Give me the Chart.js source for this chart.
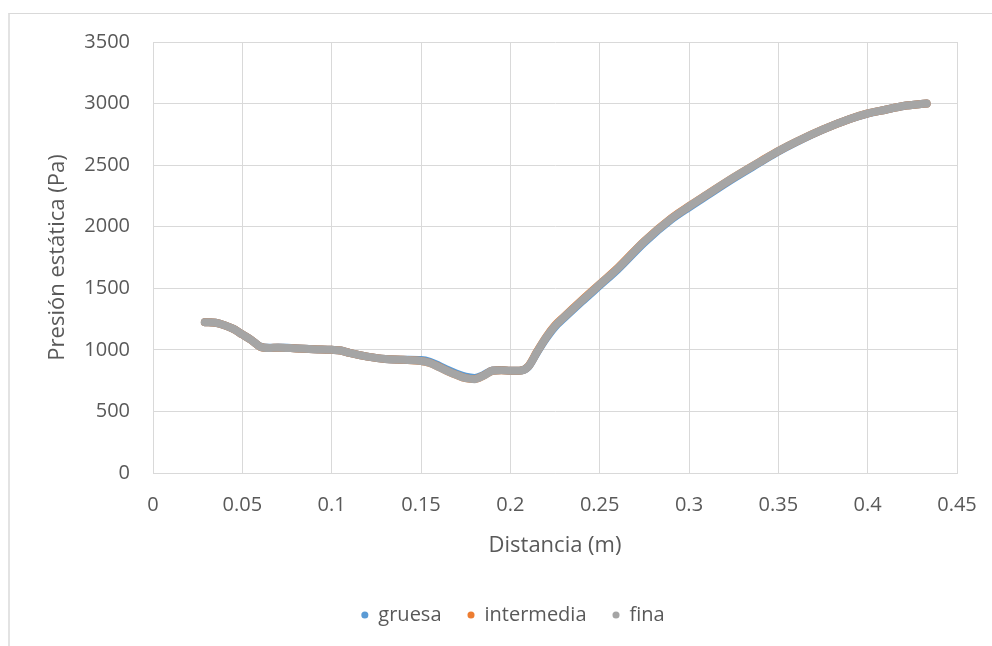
<!DOCTYPE html>
<html>
<head>
<meta charset="utf-8">
<script src="https://cdn.jsdelivr.net/npm/chart.js@4.4.1/dist/chart.umd.min.js"></script>
<style>
  body { margin: 0; background: #fff; }
  #wrap { position: relative; width: 992px; height: 646px; }
  #frame { position: absolute; left: 8px; top: 13px; right: 0; bottom: 0;
           border-left: 2px solid #e3e3e3; border-top: 1px solid #d9d9d9; }
  canvas { position: absolute; left: 0; top: 0; }
</style>
</head>
<body>
<div id="wrap">
  <div id="frame"></div>
  <canvas id="presionChart" width="992" height="646"></canvas>
</div>
<script>
// distance along the duct (m)
const distancia = [0.029, 0.035, 0.04, 0.045, 0.05, 0.055, 0.06, 0.065, 0.07, 0.08,
  0.09, 0.1, 0.105, 0.11, 0.12, 0.13, 0.14, 0.15, 0.155, 0.16,
  0.165, 0.17, 0.175, 0.18, 0.185, 0.19, 0.195, 0.2, 0.205, 0.21,
  0.215, 0.22, 0.225, 0.23, 0.24, 0.25, 0.26, 0.275, 0.29, 0.3,
  0.31, 0.325, 0.34, 0.35, 0.36, 0.375, 0.39, 0.4, 0.41, 0.42, 0.433];

// static pressure (Pa) for each mesh
const gruesa = [1225, 1220, 1200, 1170, 1125, 1080, 1027, 1017, 1019, 1013,
  1005, 1000, 995, 975, 945, 925, 920, 917, 903, 872,
  837, 806, 782, 772, 796, 832, 836, 831, 831, 861,
  980, 1092, 1187, 1257, 1392, 1522, 1652, 1872, 2057, 2157,
  2252, 2393, 2524, 2611, 2687, 2789, 2874, 2919, 2950, 2980, 3000];

const intermedia = [1225, 1220, 1200, 1170, 1125, 1080, 1025, 1015, 1018, 1012,
  1005, 1000, 995, 975, 945, 925, 920, 910, 893, 861,
  826, 796, 771, 763, 791, 830, 835, 830, 830, 866,
  987, 1103, 1198, 1268, 1403, 1533, 1663, 1883, 2068, 2167,
  2261, 2401, 2531, 2615, 2690, 2790, 2875, 2920, 2950, 2980, 3000];

const fina = [1225, 1220, 1200, 1170, 1125, 1080, 1025, 1015, 1018, 1012,
  1005, 1000, 995, 975, 945, 925, 920, 910, 893, 860,
  825, 795, 770, 762, 790, 830, 835, 830, 830, 865,
  985, 1100, 1195, 1265, 1400, 1530, 1660, 1880, 2065, 2165,
  2260, 2400, 2530, 2615, 2690, 2790, 2875, 2920, 2950, 2980, 3000];

const xTicks = [0, 0.05, 0.1, 0.15, 0.2, 0.25, 0.3, 0.35, 0.4, 0.45];
const yTicks = [0, 500, 1000, 1500, 2000, 2500, 3000, 3500];

const textColor = '#595959';
const gridColor = '#d9d9d9';
const fontFamily = '"Open Sans", sans-serif';

function toPoints(ys) {
  return distancia.map((x, i) => ({ x: x, y: ys[i] }));
}

function makeSet(label, values, color, order) {
  return {
    label: label,
    data: toPoints(values),
    showLine: true,
    borderColor: color,
    backgroundColor: color,
    borderWidth: 8,
    borderCapStyle: 'round',
    borderJoinStyle: 'round',
    cubicInterpolationMode: 'monotone',
    pointRadius: 0,
    order: order
  };
}

// nudge the legend a bit to the right, like the original
const legendShift = {
  id: 'legendShift',
  afterLayout: function(c) {
    c.legend.left += 14;
    c.legend.right += 14;
  }
};

const ctx = document.getElementById('presionChart').getContext('2d');
const chart = new Chart(ctx, {
  type: 'scatter',
  data: {
    datasets: [
      makeSet('gruesa', gruesa, '#5b9bd5', 2),
      makeSet('intermedia', intermedia, '#ed7d31', 1),
      makeSet('fina', fina, '#a5a5a5', 0)
    ]
  },
  options: {
    responsive: false,
    animation: false,
    layout: { padding: { left: 41, top: 42, right: 35, bottom: 11 } },
    scales: {
      x: {
        type: 'linear',
        min: 0,
        max: 0.45,
        afterBuildTicks: function(axis) { axis.ticks = xTicks.map(v => ({ value: v })); },
        afterFit: function(axis) {
          axis.height = 106;
          axis.paddingLeft = 0;
          axis.paddingRight = 0;
        },
        ticks: {
          color: textColor,
          padding: 20,
          font: { family: fontFamily, size: 20 },
          callback: function(v) { return String(v); }
        },
        grid: { color: gridColor, drawTicks: false },
        border: { color: gridColor },
        title: {
          display: true,
          text: 'Distancia (m)',
          color: textColor,
          font: { family: fontFamily, size: 22 },
          padding: { top: 4, bottom: 20 }
        }
      },
      y: {
        min: 0,
        max: 3500,
        afterBuildTicks: function(axis) { axis.ticks = yTicks.map(v => ({ value: v })); },
        afterFit: function(axis) { axis.width = 112; },
        ticks: {
          color: textColor,
          padding: 23,
          font: { family: fontFamily, size: 20 },
          callback: function(v) { return String(v); }
        },
        grid: { color: gridColor, drawTicks: false },
        border: { color: gridColor },
        title: {
          display: true,
          text: 'Presión estática (Pa)',
          color: textColor,
          font: { family: fontFamily, size: 22 },
          padding: { top: 4, bottom: 4 }
        }
      }
    },
    plugins: {
      tooltip: { enabled: false },
      legend: {
        position: 'bottom',
        labels: {
          color: textColor,
          font: { family: fontFamily, size: 20 },
          usePointStyle: true,
          pointStyle: 'circle',
          boxWidth: 7,
          boxHeight: 5,
          padding: 26,
          generateLabels: function(c) {
            const items = Chart.defaults.plugins.legend.labels.generateLabels(c);
            items.forEach(it => { it.lineWidth = 0; it.strokeStyle = it.fillStyle; });
            return items;
          },
          sort: function(a, b) { return a.datasetIndex - b.datasetIndex; }
        }
      }
    }
  },
  plugins: [legendShift]
});
</script>
</body>
</html>
